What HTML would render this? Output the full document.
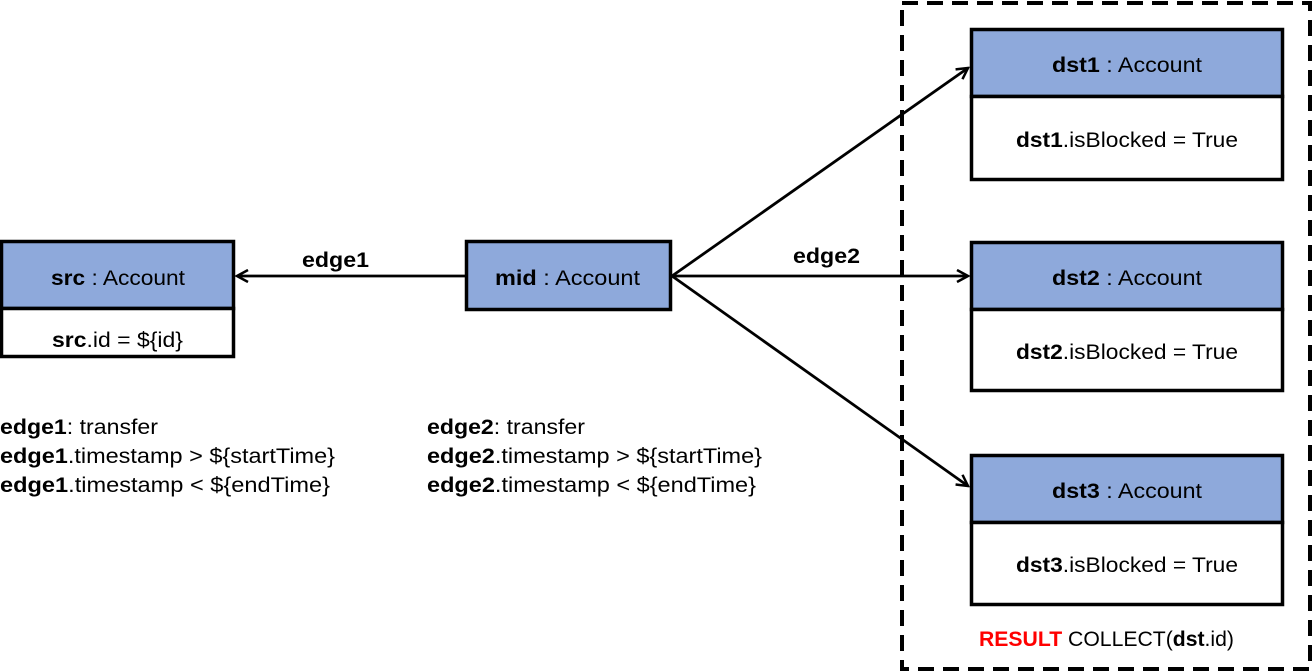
<!DOCTYPE html>
<html><head><meta charset="utf-8"><style>
html,body{margin:0;padding:0;background:#fff;}
svg{display:block;}
text{font-family:"Liberation Sans",sans-serif;font-size:21px;fill:#000;}
.b{font-weight:bold;}
</style></head><body>
<svg width="1314" height="672" viewBox="0 0 1314 672" xmlns="http://www.w3.org/2000/svg">
<defs>
<marker id="a" markerWidth="14" markerHeight="14" refX="12" refY="7" orient="auto" markerUnits="userSpaceOnUse">
<path d="M1,1 L12,7 L1,13" fill="none" stroke="#000" stroke-width="2.5"/>
</marker>
</defs>
<rect x="902" y="3" width="408" height="666" fill="none" stroke="#000" stroke-width="4" stroke-dasharray="16,9"/>

<line x1="465" y1="276" x2="237" y2="276" stroke="#000" stroke-width="2.8" marker-end="url(#a)"/>
<line x1="672" y1="276" x2="968" y2="68" stroke="#000" stroke-width="2.8" marker-end="url(#a)"/>
<line x1="672" y1="276" x2="968" y2="276" stroke="#000" stroke-width="2.8" marker-end="url(#a)"/>
<line x1="672" y1="276" x2="968" y2="486" stroke="#000" stroke-width="2.8" marker-end="url(#a)"/>

<rect x="1.5" y="241.5" width="232" height="67" fill="#8EA9DB" stroke="#000" stroke-width="3.5"/>
<rect x="1.5" y="308.5" width="232" height="48" fill="#fff" stroke="#000" stroke-width="3.5"/>
<text x="51" y="285" textLength="134" lengthAdjust="spacingAndGlyphs"><tspan class="b">src</tspan> : Account</text>
<text x="52" y="347" textLength="131" lengthAdjust="spacingAndGlyphs"><tspan class="b">src</tspan>.id = ${id}</text>

<rect x="466.5" y="241.5" width="204" height="68" fill="#8EA9DB" stroke="#000" stroke-width="3.5"/>
<text x="495" y="285" textLength="145" lengthAdjust="spacingAndGlyphs"><tspan class="b">mid</tspan> : Account</text>

<text x="302" y="267" class="b" textLength="67" lengthAdjust="spacingAndGlyphs">edge1</text>
<text x="793" y="263" class="b" textLength="67" lengthAdjust="spacingAndGlyphs">edge2</text>

<rect x="971.5" y="29.5" width="311" height="67" fill="#8EA9DB" stroke="#000" stroke-width="3.5"/>
<rect x="971.5" y="96.5" width="311" height="83" fill="#fff" stroke="#000" stroke-width="3.5"/>
<text x="1052" y="72" textLength="150" lengthAdjust="spacingAndGlyphs"><tspan class="b">dst1</tspan> : Account</text>
<text x="1016" y="147" textLength="222" lengthAdjust="spacingAndGlyphs"><tspan class="b">dst1</tspan>.isBlocked = True</text>

<rect x="971.5" y="242.5" width="311" height="67" fill="#8EA9DB" stroke="#000" stroke-width="3.5"/>
<rect x="971.5" y="309.5" width="311" height="81" fill="#fff" stroke="#000" stroke-width="3.5"/>
<text x="1052" y="285" textLength="150" lengthAdjust="spacingAndGlyphs"><tspan class="b">dst2</tspan> : Account</text>
<text x="1016" y="359" textLength="222" lengthAdjust="spacingAndGlyphs"><tspan class="b">dst2</tspan>.isBlocked = True</text>

<rect x="971.5" y="455.5" width="311" height="67" fill="#8EA9DB" stroke="#000" stroke-width="3.5"/>
<rect x="971.5" y="522.5" width="311" height="82" fill="#fff" stroke="#000" stroke-width="3.5"/>
<text x="1052" y="498" textLength="150" lengthAdjust="spacingAndGlyphs"><tspan class="b">dst3</tspan> : Account</text>
<text x="1016" y="572" textLength="222" lengthAdjust="spacingAndGlyphs"><tspan class="b">dst3</tspan>.isBlocked = True</text>

<text x="979" y="646" textLength="255" lengthAdjust="spacingAndGlyphs"><tspan class="b" style="fill:#ff0000">RESULT</tspan> COLLECT(<tspan class="b">dst</tspan>.id)</text>

<text x="0" y="434" textLength="158" lengthAdjust="spacingAndGlyphs"><tspan class="b">edge1</tspan>: transfer</text>
<text x="0" y="463" textLength="335" lengthAdjust="spacingAndGlyphs"><tspan class="b">edge1</tspan>.timestamp &gt; ${startTime}</text>
<text x="0" y="492" textLength="330" lengthAdjust="spacingAndGlyphs"><tspan class="b">edge1</tspan>.timestamp &lt; ${endTime}</text>

<text x="427" y="434" textLength="158" lengthAdjust="spacingAndGlyphs"><tspan class="b">edge2</tspan>: transfer</text>
<text x="427" y="463" textLength="335" lengthAdjust="spacingAndGlyphs"><tspan class="b">edge2</tspan>.timestamp &gt; ${startTime}</text>
<text x="427" y="492" textLength="329" lengthAdjust="spacingAndGlyphs"><tspan class="b">edge2</tspan>.timestamp &lt; ${endTime}</text>
</svg>
</body></html>
